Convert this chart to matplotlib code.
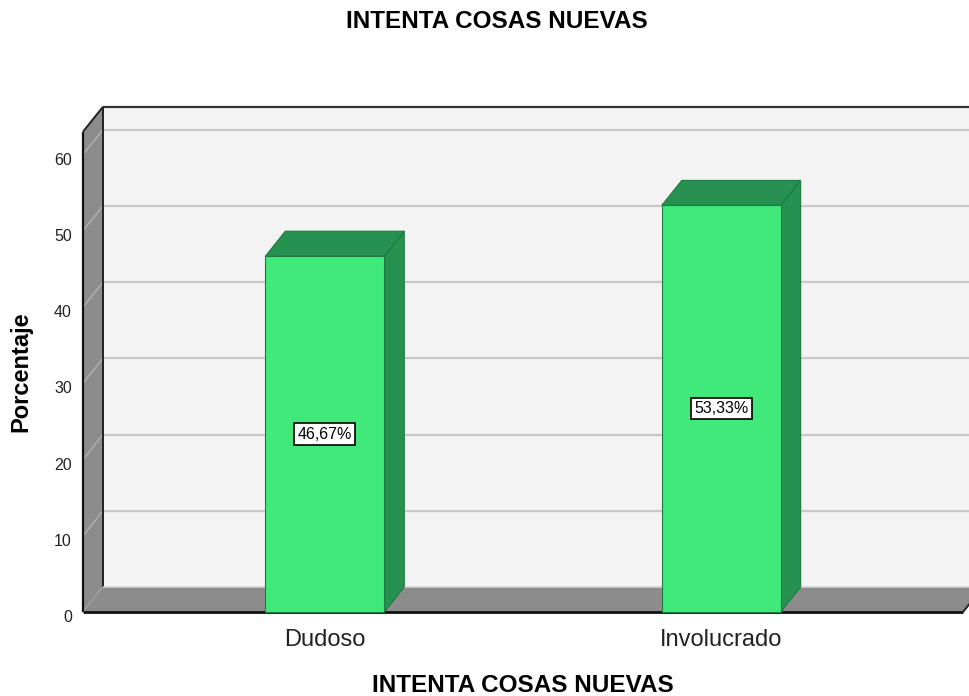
import matplotlib
matplotlib.use("Agg")
import matplotlib.pyplot as plt
from matplotlib.patches import Polygon
from matplotlib.transforms import ScaledTranslation

plt.rcParams["font.family"] = ["Liberation Sans", "DejaVu Sans"]

# data
categories = ["Dudoso", "Involucrado"]
percentages = [46.67, 53.33]
value_labels = ["46,67%", "53,33%"]
y_ticks = [0, 10, 20, 30, 40, 50, 60]
title = "INTENTA COSAS NUEVAS"
y_label = "Porcentaje"

# style
FRONT = "#41e97b"
DARK = "#269150"
EDGE = "#1d7a40"
WALL = "#8c8c8c"
BACK = "#f3f3f3"
GRID = "#c8c8c8"
Y_MAX = 63
BAR_W = 0.3
DEPTH_PX = (20, 25)  # 3d depth offset in pixels (right, up)


def poly(ax, pts, fc, ec="none", lw=0.0, z=1):
    ax.add_patch(Polygon(pts, closed=True, facecolor=fc, edgecolor=ec,
                         linewidth=lw, zorder=z, clip_on=False))


def line(ax, xs, ys, color, lw, z=2):
    ax.plot(xs, ys, color=color, lw=lw, zorder=z, clip_on=False,
            solid_capstyle="butt")


fig = plt.figure(figsize=(9.7, 6.96), dpi=100)
ax = fig.add_axes([83 / 970, 84 / 696, 880 / 970, 480.3 / 696])
ax.set_xlim(-0.61, 1.61)
ax.set_ylim(0, Y_MAX)
x0, x1 = ax.get_xlim()

# depth offset converted to data units
p0 = ax.transData.transform((0, 0))
p1 = ax.transData.transform((1, 1))
dx = DEPTH_PX[0] / (p1[0] - p0[0])
dy = DEPTH_PX[1] / (p1[1] - p0[1])

# back wall
poly(ax, [(x0 + dx, dy), (x1 + dx, dy), (x1 + dx, Y_MAX + dy), (x0 + dx, Y_MAX + dy)], BACK, z=0.5)
for t in y_ticks[1:]:
    line(ax, [x0 + dx, x1 + dx], [t + dy, t + dy], GRID, 1.6, z=0.6)
line(ax, [x0 + dx, x1 + dx], [Y_MAX + dy, Y_MAX + dy], "#333333", 1.6, z=0.7)

# left wall
poly(ax, [(x0, 0), (x0 + dx, dy), (x0 + dx, Y_MAX + dy), (x0, Y_MAX)], WALL, z=0.8)
for t in y_ticks:
    line(ax, [x0, x0 + dx], [t, t + dy], "#b4b4b4", 0.9, z=0.85)
line(ax, [x0 + dx, x0 + dx], [dy, Y_MAX + dy], "#222222", 1.4, z=0.9)
line(ax, [x0, x0 + dx], [Y_MAX, Y_MAX + dy], "#222222", 1.4, z=0.9)
line(ax, [x0, x0], [0, Y_MAX], "#111111", 1.6, z=0.9)

# floor
poly(ax, [(x0, 0), (x1, 0), (x1 + dx, dy), (x0 + dx, dy)], WALL, z=1)
line(ax, [x0 + dx, x1 + dx], [dy, dy], "#d2d2d2", 1.2, z=1.05)
line(ax, [x1, x1 + dx], [0, dy], "#222222", 1.4, z=1.1)
line(ax, [x0, x1], [0, 0], "#111111", 2.0, z=1.1)

# bars
for i, h in enumerate(percentages):
    xl, xr = i - BAR_W / 2, i + BAR_W / 2
    poly(ax, [(xr, 0), (xr + dx, dy), (xr + dx, h + dy), (xr, h)], DARK, EDGE, 0.8, z=2)
    poly(ax, [(xl, h), (xr, h), (xr + dx, h + dy), (xl + dx, h + dy)], DARK, EDGE, 0.8, z=2)
    poly(ax, [(xl, 0), (xr, 0), (xr, h), (xl, h)], FRONT, EDGE, 0.8, z=2.1)
    ax.text(i, h / 2, value_labels[i], ha="center", va="center", fontsize=11.5, zorder=3,
            bbox=dict(boxstyle="square,pad=0.2", facecolor="white", edgecolor="black", linewidth=1.2))

# axes
ax.patch.set_visible(False)
for s in ax.spines.values():
    s.set_visible(False)
ax.set_xticks(range(len(categories)))
ax.set_xticklabels(categories, fontsize=17)
ax.set_yticks(y_ticks)
ax.set_yticklabels([str(t) for t in y_ticks], fontsize=11.5)
ax.tick_params(axis="x", length=0, pad=12, colors="#222222")
ax.tick_params(axis="y", length=0, pad=8, colors="#222222")
for lab in ax.get_yticklabels():
    lab.set_transform(lab.get_transform() + ScaledTranslation(0, -3 / 72, fig.dpi_scale_trans))

ax.set_ylabel(y_label, fontsize=17, fontweight="bold", va="center")
ax.yaxis.set_label_coords(-0.0705, 0.5)
ax.set_xlabel(title, fontsize=17.5, fontweight="bold", va="center")
ax.xaxis.set_label_coords(0.5, -0.154)

fig.text(496.5 / 970, 1 - 22 / 696, title, ha="center", va="center",
         fontsize=17.5, fontweight="bold")

fig.savefig("out.png", dpi=100)
